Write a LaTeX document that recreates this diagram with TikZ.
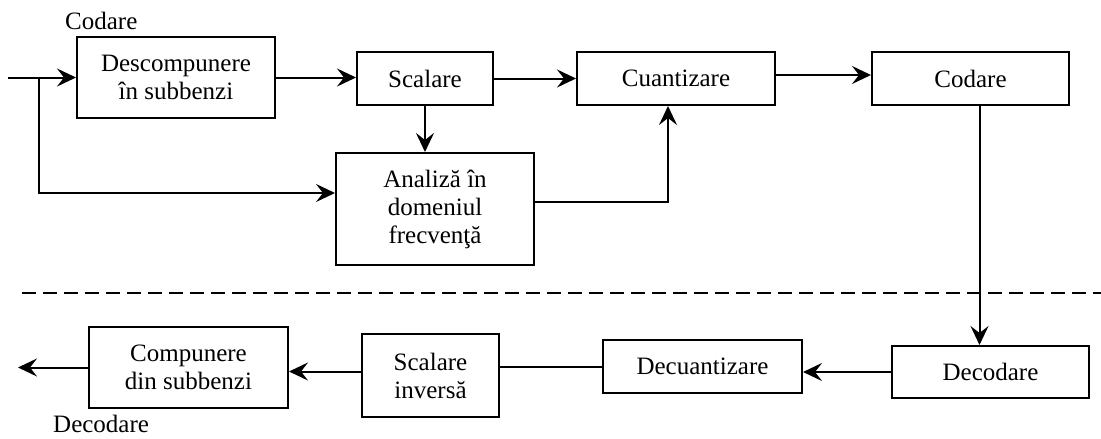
\documentclass[tikz,border=0pt]{standalone}
\usepackage{fontspec}
\setmainfont{Liberation Serif}
\usetikzlibrary{arrows.meta}
\begin{document}
\begin{tikzpicture}[x=1pt,y=-1pt,
  font=\fontsize{25}{28}\selectfont,
  blk/.style={draw, line width=2pt, inner sep=0pt, align=center},
  conn/.style={line width=2pt, -{Stealth[length=19pt,width=18pt,inset=7pt]}},
  plain/.style={line width=2pt},
  lbl/.style={anchor=base west, inner sep=0pt}]
\useasboundingbox (0,0) rectangle (1101,439);
% boxes
\node[blk, minimum width=198pt, minimum height=81pt] (desc) at (176,77.5) {Descompunere\\în subbenzi};
\node[blk, minimum width=136pt, minimum height=53pt] (scal) at (425,78.5) {Scalare};
\node[blk, minimum width=198pt, minimum height=53pt] (cuant) at (676,78.5) {Cuantizare};
\node[blk, minimum width=197pt, minimum height=53pt] (cod) at (970.5,78.5) {Codare};
\node[blk, minimum width=198pt, minimum height=112pt] (anal) at (435,209) {Analiză în\\domeniul\\frecvenţă};
\node[blk, minimum width=197pt, minimum height=52pt] (decod) at (990.5,372) {Decodare};
\node[blk, minimum width=199pt, minimum height=53pt] (decuant) at (702.5,366.5) {Decuantizare};
\node[blk, minimum width=137pt, minimum height=83pt] (scinv) at (430.5,375.5) {Scalare\\inversă};
\node[blk, minimum width=199pt, minimum height=81pt] (comp) at (188.5,367.5) {Compunere\\din subbenzi};
% labels
\node[lbl] (lcod) at (65,29) {Codare};
\node[lbl] (ldecod) at (53,432) {Decodare};
% coordinates
\coordinate (in) at (8,77.5);
\coordinate (br) at (39,77.5);
\coordinate (out) at (18,367.5);
\coordinate (dl) at (22,293);
\coordinate (dr) at (1101,293);
% connectors
\draw[conn] (in) -- (desc.west);
\draw[conn] (br) |- ([yshift=16pt]anal.west);
\draw[conn] (desc.east) -- (desc.east -| scal.west);
\draw[conn] (scal.east) -- (cuant.west);
\draw[conn] ([yshift=3.5pt]cuant.east) -- ([yshift=3.5pt]cuant.east -| cod.west);
\draw[conn] (scal.south) -- (scal.south |- anal.north);
\draw[conn] ([yshift=7pt]anal.east) -| ([xshift=-8pt]cuant.south);
\draw[conn] ([xshift=9pt]cod.south) -- ([xshift=9pt]cod.south |- decod.north);
\draw[conn] (decod.west) -- (decod.west -| decuant.east);
\draw[plain] (decuant.west) -- (decuant.west -| scinv.east);
\draw[conn] ([yshift=4pt]scinv.west) -- ([yshift=4pt]scinv.west -| comp.east);
\draw[conn] (comp.west) -- (comp.west -| out);
\draw[plain, dash pattern=on 14pt off 7pt] (dl) -- (dr);
\end{tikzpicture}
\end{document}
